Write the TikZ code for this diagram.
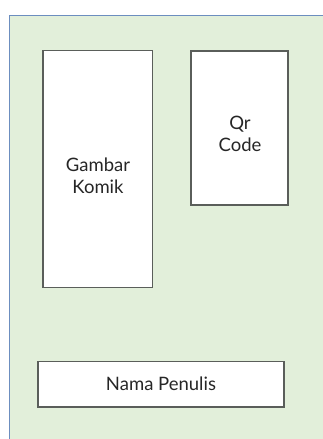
\documentclass[tikz,border=0pt]{standalone}
\usepackage{fontspec}
\setmainfont{Lato}
\definecolor{bgfill}{RGB}{226,239,218}
\definecolor{bgline}{RGB}{108,142,191}
\definecolor{boxline}{RGB}{90,94,90}
\begin{document}
\begin{tikzpicture}[x=1pt,y=-1pt,
  panel/.style={draw=boxline,fill=white,line width=1.1pt},
  lbl/.style={font=\fontsize{18.5}{22}\selectfont,align=center,text=black!85}]
\useasboundingbox (0,0) rectangle (322,439);
\fill[bgfill] (9.5,15.5) rectangle (330,445);
\draw[bgline,line width=1pt] (9.5,445) -- (9.5,15.5) -- (330,15.5);
\draw[panel] (43,50.5) rectangle (152.5,287.5);
\node[lbl] (komik) at (98,176) {Gambar\\Komik};
\draw[panel] (191,51) rectangle (288,205);
\node[lbl] (qr) at (240,134) {Qr\\Code};
\draw[panel] (38,361.5) rectangle (284,407);
\node[lbl] (nama) at (161,384) {Nama Penulis};
\end{tikzpicture}
\end{document}
